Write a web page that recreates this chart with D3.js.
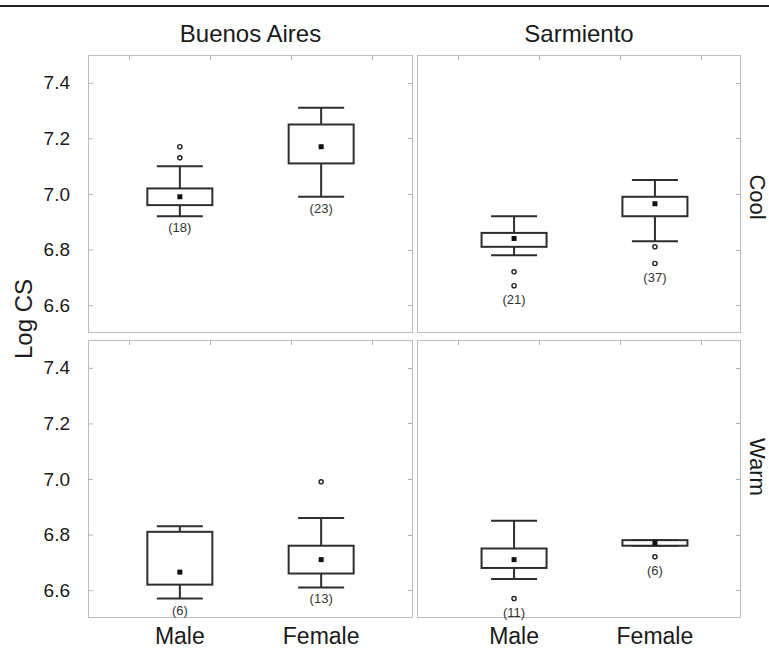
<!DOCTYPE html>
<html>
<head>
<meta charset="utf-8">
<script src="https://cdn.jsdelivr.net/npm/d3@7/dist/d3.min.js"></script>
<style>
  html, body { margin: 0; padding: 0; background: #fff; }
  svg { display: block; font-family: "Liberation Sans", Arial, Helvetica, sans-serif; }
</style>
</head>
<body>
<script>
// Facets and categories
const regions = ["Buenos Aires", "Sarmiento"];
const seasons = ["Cool", "Warm"];
const sexes = ["Male", "Female"];
const yTickValues = [6.6, 6.8, 7.0, 7.2, 7.4];

// One entry per box (season → region → sex)
const boxSeason = ["Cool", "Cool", "Cool", "Cool", "Warm", "Warm", "Warm", "Warm"];
const boxRegion = ["Buenos Aires", "Buenos Aires", "Sarmiento", "Sarmiento",
                   "Buenos Aires", "Buenos Aires", "Sarmiento", "Sarmiento"];
const boxSex = ["Male", "Female", "Male", "Female", "Male", "Female", "Male", "Female"];
const whiskerLow  = [6.92, 6.99, 6.78, 6.83, 6.57, 6.61, 6.64, 6.76];
const quartile1   = [6.96, 7.11, 6.81, 6.92, 6.62, 6.66, 6.68, 6.76];
const medians     = [6.99, 7.17, 6.84, 6.965, 6.665, 6.71, 6.71, 6.77];
const quartile3   = [7.02, 7.25, 6.86, 6.99, 6.81, 6.76, 6.75, 6.78];
const whiskerHigh = [7.10, 7.31, 6.92, 7.05, 6.83, 6.86, 6.85, 6.78];
const outliers    = [[7.13, 7.17], [], [6.72, 6.67], [6.81, 6.75], [], [6.99], [6.57], [6.72]];
const sampleSize  = [18, 23, 21, 37, 6, 13, 11, 6];

// Layout
const W = 769, H = 649;
const panelLeft = [88, 417];
const panelWidth = [325, 324];
const panelTop = [55, 340];
const panelH = 278;
const colAlign = [0.5, 0.53];
const rowLabelY = [197, 467];
const boxW = 65, capW = 46, tickLen = 5;
const ink = "#2e2e2e", textInk = "#1a1a1a", frame = "#bdbdbd", tickInk = "#b3b3b3";

const svg = d3.select("body").append("svg").attr("width", W).attr("height", H);

// heavy rule across the top
svg.append("line").attr("x1", 0).attr("x2", W).attr("y1", 6).attr("y2", 6)
  .attr("stroke", "#222").attr("stroke-width", 2);

const y = d3.scaleLinear().domain([6.5, 7.5]).range([panelH, 0]);

const boxes = boxSex.map((s, i) => ({
  sex: s, region: boxRegion[i], season: boxSeason[i],
  lo: whiskerLow[i], q1: quartile1[i], med: medians[i], q3: quartile3[i], hi: whiskerHigh[i],
  out: outliers[i], n: sampleSize[i]
}));

seasons.forEach((season, row) => {
  regions.forEach((region, col) => {
    const w = panelWidth[col];
    const g = svg.append("g")
      .attr("transform", `translate(${panelLeft[col]},${panelTop[row]})`);
    const x = d3.scalePoint().domain(sexes).range([0, w]).padding(0.65).align(colAlign[col]);

    g.append("rect").attr("x", 0.5).attr("y", 0.5).attr("width", w - 1).attr("height", panelH - 1)
      .attr("fill", "none").attr("stroke", frame).attr("stroke-width", 1);

    // top frame ticks
    const fx = d3.scaleLinear().domain([0, 4]).range([0, w]);
    g.selectAll(".ttick").data([0.5, 1.5, 2.5, 3.5]).join("line")
      .attr("x1", d => Math.round(fx(d)) + 0.5).attr("x2", d => Math.round(fx(d)) + 0.5)
      .attr("y1", 0).attr("y2", tickLen).attr("stroke", tickInk);

    // right frame ticks
    g.selectAll(".rtick").data(yTickValues).join("line")
      .attr("x1", w - tickLen).attr("x2", w)
      .attr("y1", d => Math.round(y(d)) + 0.5).attr("y2", d => Math.round(y(d)) + 0.5)
      .attr("stroke", tickInk);

    if (col === 0) {
      const axis = d3.axisLeft(y).tickValues(yTickValues).tickFormat(d3.format(".1f"))
        .tickSizeInner(-tickLen).tickSizeOuter(0).tickPadding(18);
      const ag = g.append("g").call(axis);
      ag.select(".domain").remove();
      ag.selectAll(".tick line").attr("stroke", tickInk);
      ag.selectAll(".tick text").attr("font-size", 19).attr("fill", textInk)
        .attr("font-family", "Liberation Sans, Arial, sans-serif");
    }

    const data = boxes.filter(b => b.region === region && b.season === season);
    const bg = g.selectAll(".box").data(data).join("g")
      .attr("transform", d => `translate(${x(d.sex)},0)`);

    // whisker stems
    bg.append("line").attr("x1", 0).attr("x2", 0)
      .attr("y1", d => y(d.hi)).attr("y2", d => y(d.lo))
      .attr("stroke", ink).attr("stroke-width", 2);
    // whisker caps
    bg.append("line").attr("x1", -capW / 2).attr("x2", capW / 2)
      .attr("y1", d => y(d.hi)).attr("y2", d => y(d.hi))
      .attr("stroke", ink).attr("stroke-width", 2);
    bg.append("line").attr("x1", -capW / 2).attr("x2", capW / 2)
      .attr("y1", d => y(d.lo)).attr("y2", d => y(d.lo))
      .attr("stroke", ink).attr("stroke-width", 2);
    // quartile box
    bg.append("rect").attr("x", -boxW / 2).attr("width", boxW)
      .attr("y", d => y(d.q3)).attr("height", d => y(d.q1) - y(d.q3))
      .attr("fill", "#fff").attr("stroke", ink).attr("stroke-width", 2);
    // median marker
    bg.append("rect").attr("x", -2.5).attr("width", 5)
      .attr("y", d => y(d.med) - 2.5).attr("height", 5).attr("fill", "#111");
    // outliers
    bg.selectAll(".out").data(d => d.out).join("circle")
      .attr("cx", 0).attr("cy", d => y(d)).attr("r", 2.1)
      .attr("fill", "#fff").attr("stroke", "#222").attr("stroke-width", 1.4);
    // sample size below the lowest mark
    bg.append("text")
      .attr("x", 0)
      .attr("y", d => {
        const lowOut = d.out.length ? d3.min(d.out) : Infinity;
        return lowOut < d.lo ? y(lowOut) + 18 : y(d.lo) + 16;
      })
      .attr("text-anchor", "middle").attr("font-size", 13).attr("fill", "#333")
      .text(d => `(${d.n})`);

    // category labels under the bottom row
    if (row === seasons.length - 1) {
      g.selectAll(".cat").data(sexes).join("text")
        .attr("x", d => x(d)).attr("y", 644 - panelTop[row])
        .attr("text-anchor", "middle").attr("font-size", 23).attr("fill", textInk)
        .text(d => d);
    }
  });
});

// column titles
svg.selectAll(".coltitle").data(regions).join("text")
  .attr("x", (d, i) => panelLeft[i] + panelWidth[i] / 2).attr("y", 42)
  .attr("text-anchor", "middle").attr("font-size", 24).attr("fill", textInk)
  .text(d => d);

// row titles
svg.selectAll(".rowtitle").data(seasons).join("text")
  .attr("transform", (d, i) => `translate(750,${rowLabelY[i]}) rotate(90)`)
  .attr("text-anchor", "middle").attr("font-size", 22).attr("fill", textInk)
  .text(d => d);

// y-axis title
svg.append("text")
  .attr("transform", "translate(32,319) rotate(-90)")
  .attr("text-anchor", "middle").attr("font-size", 24).attr("fill", textInk)
  .text("Log CS");
</script>
</body>
</html>
